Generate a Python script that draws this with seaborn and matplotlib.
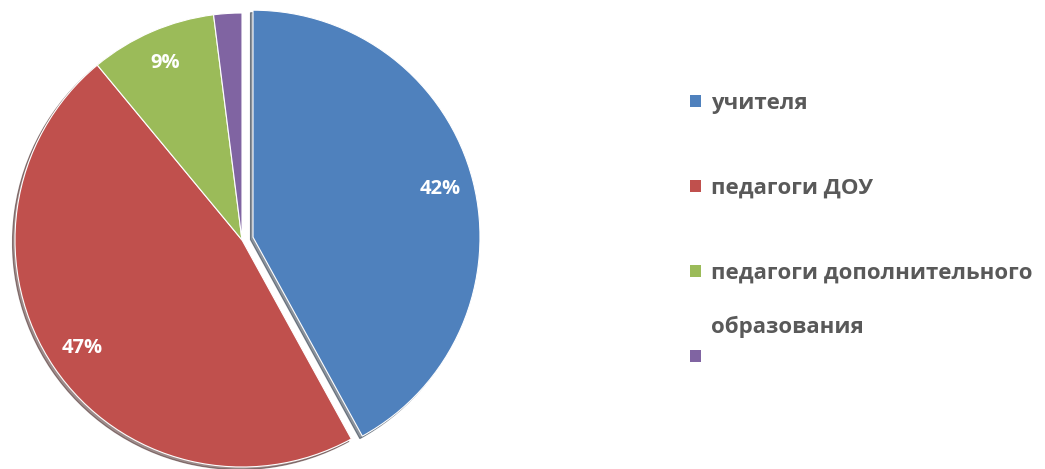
import matplotlib
matplotlib.use("Agg")
import matplotlib.pyplot as plt
import seaborn as sns
from matplotlib.patches import Patch

categories = ["учителя", "педагоги ДОУ", "педагоги дополнительного\nобразования", ""]
values = [42, 47, 9, 2]
colors = ["#4F81BD", "#C0504D", "#9BBB59", "#8064A2"]

sns.set_theme(style="white")
plt.rcParams['font.family'] = ['Open Sans', 'DejaVu Sans']

fig = plt.figure(figsize=(10.45, 4.69), dpi=100)
W, H = 1045, 469
cx, cy, r = 242, 240, 227
ax = fig.add_axes([(cx - r) / W, (H - cy - r) / H, 2 * r / W, 2 * r / H])

def fmt(p):
    return f"{p:.0f}%" if p >= 5 else ""

wedges, texts, autotexts = ax.pie(
    values, colors=colors, startangle=90, counterclock=False,
    explode=[0.05, 0, 0, 0], radius=1.0, autopct=fmt, pctdistance=0.85,
    shadow={'ox': -0.008, 'oy': -0.008, 'shade': 0.7},
    wedgeprops=dict(edgecolor="white", linewidth=0.8),
    textprops=dict(color="white", fontweight="bold", fontsize=14.5),
    frame=False,
)
ax.set_xlim(-1, 1)
ax.set_ylim(-1, 1)
ax.axis("off")
for w in wedges:
    w.set_clip_on(False)

leg_labels = ["учителя", "педагоги ДОУ", "педагоги дополнительного", ""]
handles = [Patch(facecolor=c, edgecolor="none") for c in colors]
fs = 16
leg = fig.legend(handles, leg_labels, loc="upper left",
                 bbox_to_anchor=(690 / W, 1 - 93 / H), frameon=False,
                 fontsize=fs, handlelength=0.5, handleheight=0.5,
                 handletextpad=0.45, labelspacing=2.88, borderpad=0,
                 borderaxespad=0)
for t in leg.get_texts():
    t.set_color("#595959")
    t.set_fontweight("bold")
fig.text(711 / W, 1 - 327 / H, "образования", color="#595959",
         fontweight="bold", fontsize=fs, va="center", ha="left")

fig.savefig("out.png", dpi=100)
